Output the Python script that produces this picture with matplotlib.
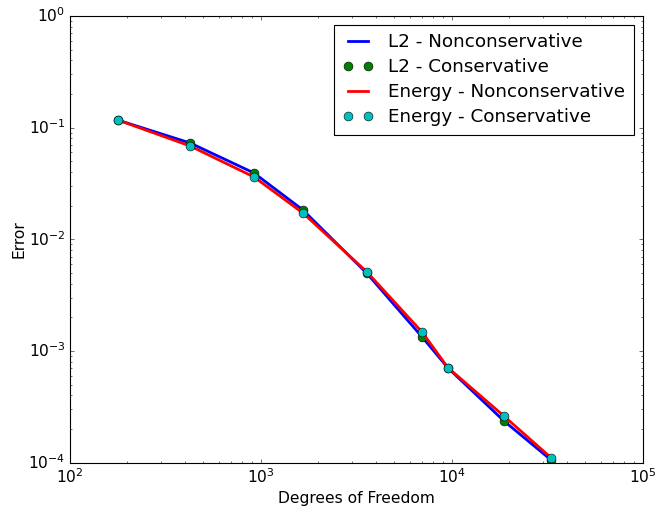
import matplotlib
matplotlib.use('Agg')
import matplotlib.pyplot as plt
import numpy as np

# valores
dof = [178, 425, 919, 1660, 3590, 6970, 9530, 18700, 33000]
err_l2 = [0.117, 0.0730, 0.0393, 0.0183, 0.00495, 0.00134, 0.000706, 0.000237, 0.000106]
err_energy = [0.117, 0.0686, 0.0362, 0.0172, 0.00510, 0.00148, 0.000710, 0.000262, 0.000111]

plt.style.use('classic')
plt.rcParams['font.size'] = 14
plt.rcParams['legend.fontsize'] = 16.5

fig = plt.figure(figsize=(657 / 80.0, 512 / 80.0), dpi=80)
ax = fig.add_axes([0.1065, 0.0963, 0.872, 0.8725])

ax.loglog(dof, err_l2, 'b-', lw=2.5, label='L2 - Nonconservative')
ax.loglog(dof, err_l2, 'go', ms=8, label='L2 - Conservative')
ax.loglog(dof, err_energy, 'r-', lw=2.5, label='Energy - Nonconservative')
ax.loglog(dof, err_energy, 'co', ms=8, label='Energy - Conservative')

ax.set_xlim(1e2, 1e5)
ax.set_ylim(1e-4, 1e0)
ax.set_xlabel('Degrees of Freedom')
ax.set_ylabel('Error', labelpad=2)
ax.legend(loc='upper right', numpoints=2, handlelength=1.7,
          labelspacing=0.38, borderpad=0.45)

fig.savefig('out.png', dpi=80)
